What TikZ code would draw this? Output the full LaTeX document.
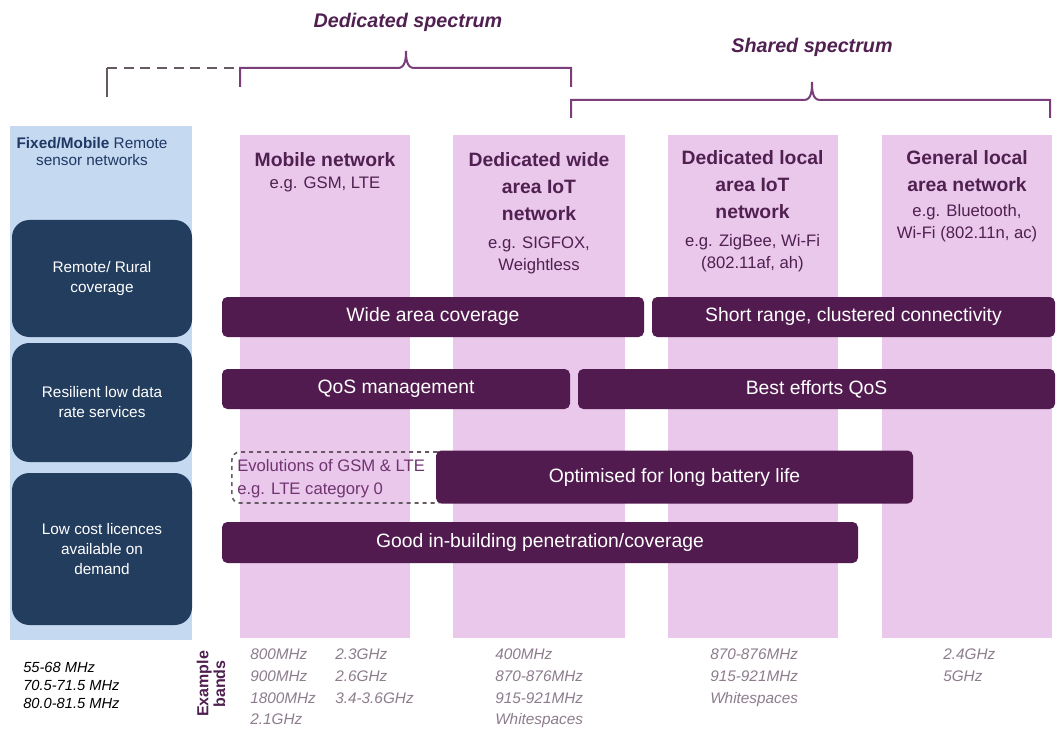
\documentclass[tikz,border=0pt]{standalone}
\usepackage{fontspec}
\setmainfont{Liberation Sans}
\definecolor{pinkcol}{RGB}{233,200,235}
\definecolor{bluecol}{RGB}{197,217,241}
\definecolor{navy}{RGB}{35,61,94}
\definecolor{navytext}{RGB}{31,56,100}
\definecolor{plum}{RGB}{82,27,79}
\definecolor{headtext}{RGB}{80,32,80}
\definecolor{bracket}{RGB}{122,62,122}
\definecolor{bandtext}{RGB}{140,124,140}
\definecolor{evotext}{RGB}{112,52,112}
\definecolor{dashgray}{RGB}{100,90,100}

\begin{document}
\begin{tikzpicture}[x=0.75pt,y=-0.75pt,
  column/.style={fill=pinkcol,minimum width=127.5pt,minimum height=377.25pt,inner sep=0},
  sidebox/.style={fill=navy,rounded corners=13pt,minimum width=135pt,inner sep=0,text=white,align=center,font=\fontsize{11.5}{15}\selectfont},
  bar/.style={fill=plum,rounded corners=4pt,inner sep=0,text=white,minimum height=30pt,font=\fontsize{14.5}{17}\selectfont},
  title/.style={anchor=north,inner sep=0,align=center,text=headtext,font=\bfseries\fontsize{14.5}{20.25}\selectfont},
  eg/.style={anchor=north,inner sep=0,align=center,text=headtext,font=\fontsize{12.5}{16.5}\selectfont},
  band/.style={anchor=north west,inner sep=0,align=left,text=bandtext,font=\itshape\fontsize{11.5}{16.25}\selectfont},
  brace/.style={draw=bracket,line width=1.5pt},
  spec/.style={text=headtext,font=\bfseries\itshape\fontsize{14.8}{17}\selectfont}]
\useasboundingbox (0,0) rectangle (1057,731);

\node[spec] (ds) at (408,22) {Dedicated spectrum};
\node[spec] (ss) at (812,47) {Shared spectrum};
\draw[brace] (240,87) |- (398,68) to[out=0,in=-90] (406,51) to[out=-90,in=180] (414,68) -| (571,87);
\draw[brace] (571,118) |- (804,100) to[out=0,in=-90] (812,82) to[out=-90,in=180] (820,100) -| (1050,118);
\draw[dashgray,line width=1.5pt] (107,97) -- (107,68);
\draw[dashgray,line width=1.5pt,dash pattern=on 7.5pt off 5pt] (107,68) -- (240,68);

\node[fill=bluecol,minimum width=136.5pt,minimum height=385.5pt,inner sep=0] (side) at (101,383) {};
\node[anchor=north,inner sep=0,align=center,text=navytext,font=\fontsize{11.5}{12.75}\selectfont] (fm) at (92,137) {\textbf{Fixed/Mobile} Remote\\sensor networks};
\node[sidebox,minimum height=87.75pt] (s1) at (102,278.5) {Remote/ Rural\\coverage};
\node[sidebox,minimum height=89.25pt] (s2) at (102,402.5) {Resilient low data\\rate services};
\node[sidebox,minimum height=114pt] (s3) at (102,549) {Low cost licences\\available on\\demand};

\node[column] (c1) at (325,386.5) {};
\node[column,minimum width=129pt] (c2) at (539,386.5) {};
\node[column] (c3) at (752.5,386.5) {};
\node[column] (c4) at (967,386.5) {};

\node[title] (t1) at (325,152) {Mobile network};
\node[eg] (e1) at (325,177) {e.g. GSM, LTE};
\node[title] (t2) at (539,152) {Dedicated wide\\area IoT\\network};
\node[eg] (e2) at (539,237) {e.g. SIGFOX,\\Weightless};
\node[title] (t3) at (752.5,150) {Dedicated local\\area IoT\\network};
\node[eg] (e3) at (752.5,234) {e.g. ZigBee, Wi-Fi\\(802.11af, ah)};
\node[title] (t4) at (967,150) {General local\\area network};
\node[eg] (e4) at (967,204) {e.g. Bluetooth,\\Wi-Fi (802.11n, ac)};

\node[bar,minimum width=316.5pt] (b1) at (433,317) {Wide area coverage};
\node[bar,minimum width=302.25pt] (b2) at (853.5,317) {Short range, clustered connectivity};
\node[bar,minimum width=261pt] (b3) at (396,389) {QoS management};
\node[bar,minimum width=357.75pt] (b4) at (816.5,389) {Best efforts QoS};
\node[draw=dashgray,dashed,line width=1.2pt,rounded corners=6pt,minimum width=160pt,minimum height=38.25pt,inner sep=0] (ev) at (338.5,477.5) {};
\node[anchor=west,inner sep=0,align=left,text=evotext,font=\fontsize{12.5}{17}\selectfont] (evt) at (237,478.5) {Evolutions of GSM \& LTE\\e.g. LTE category 0};
\node[bar,minimum width=357.75pt,minimum height=39.75pt] (b5) at (674.5,477) {Optimised for long battery life};
\node[bar,minimum width=477pt,minimum height=30.75pt] (b6) at (540,542.5) {Good in-building penetration/coverage};

\node[rotate=90,align=center,inner sep=0,text=headtext,font=\bfseries\fontsize{12}{12.5}\selectfont] (ex) at (211,684) {Example\\bands};
\node[band] (m1) at (250,649) {800MHz\\900MHz\\1800MHz\\2.1GHz};
\node[band] (m2) at (335,649) {2.3GHz\\2.6GHz\\3.4-3.6GHz};
\node[band] (m3) at (495,649) {400MHz\\870-876MHz\\915-921MHz\\Whitespaces};
\node[band] (m4) at (710,649) {870-876MHz\\915-921MHz\\Whitespaces};
\node[band] (m5) at (943,649) {2.4GHz\\5GHz};
\node[anchor=north west,inner sep=0,align=left,font=\itshape\fontsize{11}{13.5}\selectfont] (lb) at (23,662) {55-68 MHz\\70.5-71.5 MHz\\80.0-81.5 MHz};
\end{tikzpicture}
\end{document}
